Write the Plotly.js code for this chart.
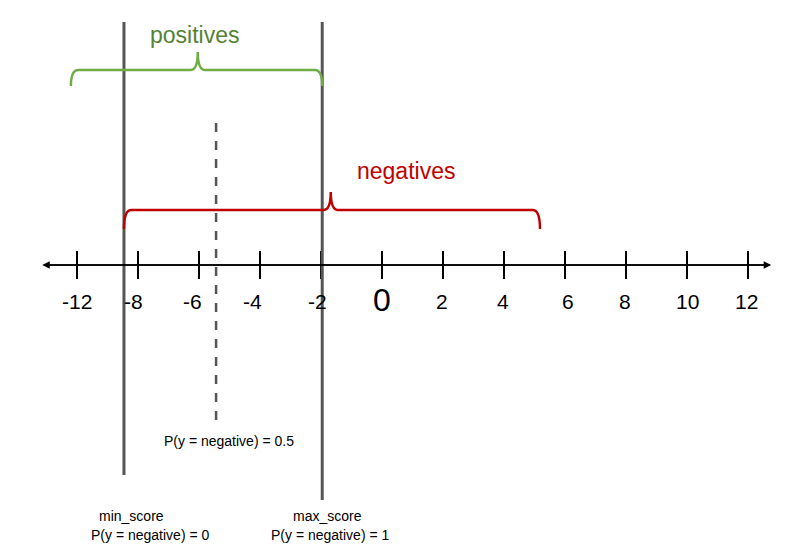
<!DOCTYPE html>
<html><head><meta charset="utf-8">
<script src="https://cdn.plot.ly/plotly-3.0.1.min.js"></script>
<style>html,body{margin:0;padding:0;background:#fff}#chart{width:787px;height:555px}</style>
</head><body><div id="chart"></div>
<script>
// number line: tick slots and the labels printed under them
const tickSlots = [0, 1, 2, 3, 4, 5, 6, 7, 8, 9, 10, 11];
const tickLabels = ['-12', '-8', '-6', '-4', '-2', '0', '2', '4', '6', '8', '10', '12'];
// score thresholds (in tick slots)
const minScore = 0.77;
const maxScore = 4.02;
const midScore = 2.28;
// brackets: [start, peak, end]
const positivesSpan = [-0.1, 1.98, 4.02];
const negativesSpan = [0.77, 4.16, 7.59];

const AXIS_Y = 265;
const FONT = 'Liberation Sans, Arial, sans-serif';

const tickX = [], tickY = [];
tickSlots.forEach(s => { tickX.push(s, s, null); tickY.push(AXIS_Y - 14, AXIS_Y + 14, null); });

const traces = [{
  x: tickX, y: tickY, mode: 'lines', line: { color: '#000', width: 2 }, hoverinfo: 'skip'
}];

const brace = (span, yTop, yEnd, yPeak, color) => {
  const [a, p, b] = span;
  const r = 0.12;
  const d = `M ${a},${yEnd} Q ${a},${yTop} ${a + r},${yTop} L ${p - r},${yTop} Q ${p},${yTop} ${p},${yPeak} ` +
            `Q ${p},${yTop} ${p + r},${yTop} L ${b - r},${yTop} Q ${b},${yTop} ${b},${yEnd}`;
  return { type: 'path', xref: 'x', yref: 'y', path: d, line: { color, width: 2.5 } };
};

const shapes = [
  { type: 'line', xref: 'x', yref: 'y', x0: minScore, x1: minScore, y0: 22, y1: 475, line: { color: '#555', width: 3 } },
  { type: 'line', xref: 'x', yref: 'y', x0: maxScore, x1: maxScore, y0: 22, y1: 500, line: { color: '#555', width: 3 } },
  { type: 'line', xref: 'x', yref: 'y', x0: midScore, x1: midScore, y0: 123, y1: 428, line: { color: '#555', width: 2.5, dash: 'dash' } },
  brace(positivesSpan, 70, 86, 52, '#70ad47'),
  brace(negativesSpan, 210, 229, 192, '#c00000')
];

const txt = (x, y, text, size, color) => ({
  x, y, xref: 'x', yref: 'y', text, showarrow: false, font: { family: FONT, size, color: color || '#000' }
});

const annotations = [
  // axis with arrowheads on both ends
  { x: 11.38, y: AXIS_Y, ax: -0.57, ay: AXIS_Y, xref: 'x', yref: 'y', axref: 'x', ayref: 'y', text: '',
    showarrow: true, arrowhead: 2, arrowsize: 1, arrowwidth: 1.5, arrowcolor: '#000' },
  { x: -0.57, y: AXIS_Y, ax: 11.38, ay: AXIS_Y, xref: 'x', yref: 'y', axref: 'x', ayref: 'y', text: '',
    showarrow: true, arrowhead: 2, arrowsize: 1, arrowwidth: 1.5, arrowcolor: '#000' },
  txt(1.93, 35, 'positives', 23, '#548235'),
  txt(5.4, 171, 'negatives', 23, '#c00000'),
  txt(2.49, 441, 'P(y = negative) = 0.5', 14),
  txt(0.9, 516, 'min_score', 14),
  txt(1.2, 535, 'P(y = negative) = 0', 14),
  txt(4.1, 516, 'max_score', 14),
  txt(4.15, 535, 'P(y = negative) = 1', 14)
];
const labelOffsets = [0, -0.08, -0.1, -0.12, -0.05, 0, -0.02, -0.02, 0.05, -0.02, 0, -0.02];
tickSlots.forEach((s, i) => {
  const big = tickLabels[i] === '0';
  annotations.push(txt(s + labelOffsets[i], big ? 300 : 301, tickLabels[i], big ? 32 : 21));
});

const layout = {
  width: 787, height: 555,
  margin: { l: 0, r: 0, t: 0, b: 0 },
  paper_bgcolor: '#fff', plot_bgcolor: '#fff',
  showlegend: false,
  xaxis: { range: [-77 / 61, 710 / 61], visible: false, fixedrange: true },
  yaxis: { range: [555, 0], visible: false, fixedrange: true },
  shapes, annotations
};

Plotly.newPlot('chart', traces, layout, { displayModeBar: false, staticPlot: true });
</script></body></html>
